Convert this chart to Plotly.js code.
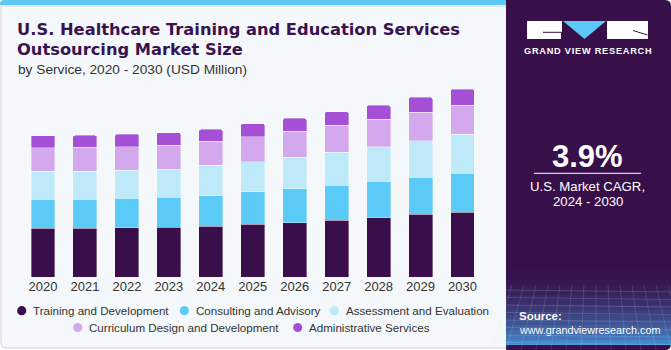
<!DOCTYPE html>
<html><head><meta charset="utf-8">
<script src="https://cdn.plot.ly/plotly-3.0.1.min.js"></script>
<style>html,body{margin:0;padding:0;background:#fff;} #chart{width:671px;height:350px;}</style>
</head><body><div id="chart"></div>
<script>
// ---- data ----
const years = ['2020','2021','2022','2023','2024','2025','2026','2027','2028','2029','2030'];
const seriesNames = ['Training and Development','Consulting and Advisory','Assessment and Evaluation','Curriculum Design and Development','Administrative Services'];
const training   = [293, 293, 295, 299, 305, 317, 327, 341, 355, 377, 389];
const consulting = [174, 175, 178, 180, 182, 194, 202, 210, 219, 222, 236];
const assessment = [168, 168, 168, 170, 184, 183, 191, 198, 210, 221, 233];
const curriculum = [142, 143, 143, 144, 144, 148, 156, 162, 164, 170, 174];
const admin      = [72, 72, 74, 75.4, 72, 80, 78, 82, 84, 90, 96];
const highlightYear = '2023';
const highlightLabel = '$868.4M';
const titleLine1 = 'U.S. Healthcare Training and Education Services';
const titleLine2 = 'Outsourcing Market Size';
const subtitle = 'by Service, 2020 - 2030 (USD Million)';
const cagrValue = '3.9%';
const cagrLabel = ['U.S. Market CAGR,', '2024 - 2030'];
const brand = 'GRAND VIEW RESEARCH';
const sourceLabel = 'Source:';
const sourceUrl = 'www.grandviewresearch.com';

// ---- styles ----
const colors = ['#380f4a','#5ccaf6','#bde9f8','#d4a8ec','#a54fd6'];
const W = 671, H = 350;
const px = x => x / W;
const py = y => 1 - y / H;
const FONT = 'Liberation Sans, Arial, sans-serif';

const seriesValues = [training, consulting, assessment, curriculum, admin];
const traces = seriesValues.map((vals, i) => ({
  type: 'bar', x: years, y: vals, name: seriesNames[i],
  marker: {color: colors[i], line: {color: 'rgba(255,255,255,0.45)', width: 0.8}, cornerradius: 2},
  showlegend: false, hoverinfo: 'x+y+name'
}));

const shapes = [];
// left panel
shapes.push({type:'path', xref:'paper', yref:'paper', layer:'below',
  path:`M ${px(1)},${py(6)} L ${px(1)},${py(343)} Q ${px(1)},${py(348)} ${px(6)},${py(348)} L ${px(520)},${py(348)} L ${px(520)},${py(6)} Z`,
  fillcolor:'#f4f8fb', line:{color:'#cfd3d6', width:1}});
// top blue strip
shapes.push({type:'path', xref:'paper', yref:'paper', layer:'below',
  path:`M ${px(0)},${py(5)} L ${px(0)},${py(4)} Q ${px(0)},${py(0)} ${px(4)},${py(0)} L ${px(510)},${py(0)} L ${px(510)},${py(5)} Z`,
  fillcolor:'#5bc8f5', line:{width:0}});
// right dark panel
shapes.push({type:'path', xref:'paper', yref:'paper', layer:'below',
  path:`M ${px(506)},${py(0)} L ${px(665)},${py(0)} Q ${px(671)},${py(0)} ${px(671)},${py(6)} L ${px(671)},${py(344)} Q ${px(671)},${py(350)} ${px(665)},${py(350)} L ${px(506)},${py(350)} Z`,
  fillcolor:'#37104a', line:{width:0}});
// bottom gradient of right panel
const nStrip = 17;
for (let i = 0; i < nStrip; i++) {
  const y0 = 265 + i * 5, t = (i + 1) / nStrip;
  const r = Math.round(55 + (70 - 55) * t * t), g = Math.round(16 + (150 - 16) * t * t), b = Math.round(74 + (215 - 74) * t * t);
  shapes.push({type:'rect', xref:'paper', yref:'paper', layer:'below',
    x0:px(506), x1:px(671), y0:py(y0), y1:py(Math.min(y0+5, i===nStrip-1?344:350)),
    fillcolor:`rgb(${r},${g},${b})`, line:{width:0}});
}
// faint grid lines in the bottom gradient
for (let k = 0; k < 8; k++) {
  const y = 290 + k * 7.5;
  shapes.push({type:'line', xref:'paper', yref:'paper', layer:'below', x0:px(506), x1:px(671), y0:py(y), y1:py(y+2),
    line:{color:'rgba(200,225,255,0.18)', width:1}});
}
for (let k = 0; k < 14; k++) {
  const x = 512 + k * 12;
  shapes.push({type:'line', xref:'paper', yref:'paper', layer:'below', x0:px(x), x1:px(x + (k-7)*3), y0:py(285), y1:py(350),
    line:{color:'rgba(200,225,255,0.15)', width:1}});
}
// logo
shapes.push({type:'rect', xref:'paper', yref:'paper', x0:px(527), x1:px(562), y0:py(21), y1:py(39), fillcolor:'#ffffff', line:{width:0}});
shapes.push({type:'path', xref:'paper', yref:'paper', path:`M ${px(563)},${py(21)} L ${px(606)},${py(21)} L ${px(584.5)},${py(39)} Z`, fillcolor:'#5bc8f5', line:{width:0}});
shapes.push({type:'rect', xref:'paper', yref:'paper', x0:px(607), x1:px(648), y0:py(21), y1:py(39), fillcolor:'#ffffff', line:{width:0}});
shapes.push({type:'path', xref:'paper', yref:'paper', path:`M ${px(543)},${py(32.3)} L ${px(561.5)},${py(32.3)} L ${px(561.5)},${py(39)}`, line:{color:'#37104a', width:1}});
shapes.push({type:'path', xref:'paper', yref:'paper', path:`M ${px(633)},${py(30.5)} L ${px(647.5)},${py(35)}`, line:{color:'#37104a', width:1}});
// CAGR divider
shapes.push({type:'line', xref:'paper', yref:'paper', x0:px(534), x1:px(641), y0:py(173.3), y1:py(173.3), line:{color:'#ffffff', width:1}});

const annotations = [];
const txt = (x, y, text, size, color, opts={}) => annotations.push(Object.assign({
  xref:'paper', yref:'paper', x:px(x), y:py(y), text, showarrow:false,
  xanchor:'left', yanchor:'middle', font:{family:FONT, size, color}
}, opts));

// titles
const TFONT = {family:'DejaVu Sans, Liberation Sans, sans-serif', size:16.3, color:'#3a1250'};
txt(15, 29.5, '<b>' + titleLine1 + '</b>', 16.3, '#3a1250', {font:TFONT});
txt(15, 49.5, '<b>' + titleLine2 + '</b>', 16.3, '#3a1250', {font:TFONT});
txt(15.5, 69, subtitle, 13.7, '#333333');

// highlight label
const hiIdx = years.indexOf(highlightYear);
const hiTotal = seriesValues.reduce((s, v) => s + v[hiIdx], 0);
annotations.push({xref:'x', yref:'y', x:highlightYear, y:hiTotal, text:highlightLabel, showarrow:false,
  xanchor:'center', yanchor:'middle', yshift:20.5, font:{family:FONT, size:14, color:'#333333'}});

// legend (two centered rows)
const legendRows = [
  {y:310.7, items:[[0,21.7],[1,184.3],[2,334.3]]},
  {y:327.5, items:[[3,77.7],[4,297.7]]}
];
legendRows.forEach(row => row.items.forEach(([i, mx]) => {
  shapes.push({type:'circle', xref:'paper', yref:'paper', x0:px(mx-4.6), x1:px(mx+4.6), y0:py(row.y-4.6), y1:py(row.y+4.6),
    fillcolor:colors[i], line:{width:0}});
  txt(mx + 9.3, row.y, seriesNames[i], 11.6, '#333333');
}));

// right panel texts
txt(587.5, 50.7, '<b>' + brand.split('').join('\u200A') + '</b>', 9.2, '#ffffff', {xanchor:'center'});
txt(587.5, 156, '<b>' + cagrValue + '</b>', 31, '#ffffff', {xanchor:'center'});
txt(587.5, 186, cagrLabel[0], 13.2, '#ffffff', {xanchor:'center'});
txt(587.5, 201.5, cagrLabel[1], 13.2, '#ffffff', {xanchor:'center'});
txt(516.5, 316, '<b>' + sourceLabel + '</b>', 11.5, '#ffffff');
txt(516.5, 330, sourceUrl, 10.8, '#ffffff');

const layout = {
  width: W, height: H,
  margin: {l:0, r:0, t:0, b:0},
  paper_bgcolor: '#ffffff', plot_bgcolor: 'rgba(0,0,0,0)',
  barmode: 'stack', bargap: 0.43,
  showlegend: false,
  xaxis: {domain:[px(22), px(483.5)], type:'category', range:[-0.5, 10.5], showgrid:false, zeroline:false, showline:false,
    ticks:'', tickfont:{family:FONT, size:13, color:'#333333'}, fixedrange:true},
  yaxis: {domain:[py(277), py(69)], range:[0, 1250], visible:false, fixedrange:true},
  shapes, annotations,
  font: {family: FONT}
};
Plotly.newPlot('chart', traces, layout, {displayModeBar:false, staticPlot:true});
</script>
</body></html>
